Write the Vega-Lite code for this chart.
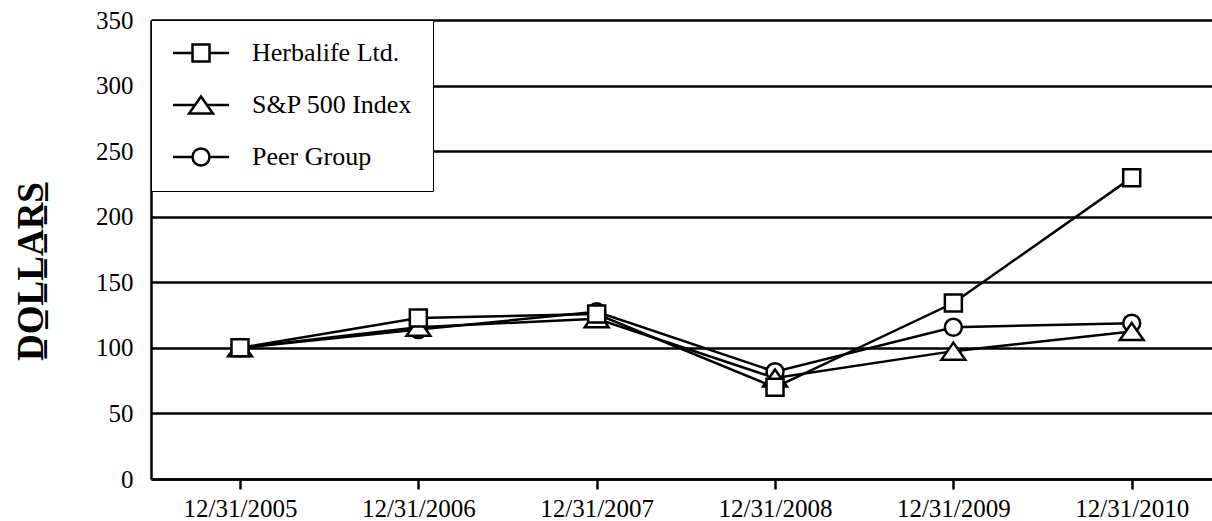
{
  "$schema": "https://vega.github.io/schema/vega-lite/v6.json",
  "width": 1061,
  "height": 459,
  "autosize": {"type": "none"},
  "padding": {"left": 151, "top": 20, "right": 0, "bottom": 42},
  "background": "white",
  "config": {"view": {"stroke": null}, "font": "Liberation Serif"},
  "data": {
    "values": [
      {"date": "12/31/2005", "series": "Peer Group", "value": 100},
      {"date": "12/31/2006", "series": "Peer Group", "value": 114},
      {"date": "12/31/2007", "series": "Peer Group", "value": 127.5},
      {"date": "12/31/2008", "series": "Peer Group", "value": 81.8},
      {"date": "12/31/2009", "series": "Peer Group", "value": 115.7},
      {"date": "12/31/2010", "series": "Peer Group", "value": 118.8},
      {"date": "12/31/2005", "series": "S&P 500 Index", "value": 100},
      {"date": "12/31/2006", "series": "S&P 500 Index", "value": 115.8},
      {"date": "12/31/2007", "series": "S&P 500 Index", "value": 122.2},
      {"date": "12/31/2008", "series": "S&P 500 Index", "value": 77},
      {"date": "12/31/2009", "series": "S&P 500 Index", "value": 97.5},
      {"date": "12/31/2010", "series": "S&P 500 Index", "value": 112.5},
      {"date": "12/31/2005", "series": "Herbalife Ltd.", "value": 100},
      {"date": "12/31/2006", "series": "Herbalife Ltd.", "value": 122.7},
      {"date": "12/31/2007", "series": "Herbalife Ltd.", "value": 125.8},
      {"date": "12/31/2008", "series": "Herbalife Ltd.", "value": 69.9},
      {"date": "12/31/2009", "series": "Herbalife Ltd.", "value": 134.2},
      {"date": "12/31/2010", "series": "Herbalife Ltd.", "value": 229.8}
    ]
  },
  "encoding": {
    "x": {
      "field": "date",
      "type": "ordinal",
      "sort": ["12/31/2005", "12/31/2006", "12/31/2007", "12/31/2008", "12/31/2009", "12/31/2010"],
      "scale": {"type": "point", "padding": 0.4746, "align": 0.5257},
      "axis": {
        "title": null,
        "labelAngle": 0,
        "labelFont": "Liberation Serif",
        "labelFontSize": 25,
        "labelColor": "black",
        "labelBaseline": "top",
        "tickColor": "black",
        "tickWidth": 2.5,
        "tickSize": 10,
        "labelPadding": 7,
        "domainColor": "black",
        "domainWidth": 2.5,
        "grid": false
      }
    },
    "y": {
      "field": "value",
      "type": "quantitative",
      "scale": {"domain": [0, 350], "nice": false},
      "axis": {
        "values": [0, 50, 100, 150, 200, 250, 300, 350],
        "grid": true,
        "gridColor": "black",
        "gridWidth": 2.5,
        "gridOpacity": 1,
        "domainColor": "black",
        "domainWidth": 2.5,
        "ticks": false,
        "tickSize": 0,
        "labelPadding": 18,
        "labelFont": "Liberation Serif",
        "labelFontSize": 25,
        "labelColor": "black",
        "title": "D\u0332O\u0332L\u0332L\u0332A\u0332R\u0332S\u0332",
        "titleFont": "Liberation Serif",
        "titleFontSize": 37,
        "titleFontWeight": "bold",
        "titleColor": "black",
        "titleAngle": 270,
        "titleX": -109,
        "titleY": 251,
        "titleAlign": "center",
        "titleBaseline": "alphabetic"
      }
    }
  },
  "layer": [
    {
      "mark": {"type": "line", "stroke": "black", "strokeWidth": 2.5},
      "encoding": {"detail": {"field": "series"}}
    },
    {
      "mark": {"type": "point", "filled": true, "fill": "white", "stroke": "black", "strokeWidth": 2.5, "size": 289, "opacity": 1},
      "encoding": {
        "shape": {
          "field": "series",
          "scale": {
            "domain": ["Herbalife Ltd.", "S&P 500 Index", "Peer Group"],
            "range": ["M-1,-1H1V1H-1Z", "M0,-1L1.4,1H-1.4Z", "circle"]
          },
          "legend": null
        }
      }
    },
    {
      "transform": [{"filter": "false"}],
      "mark": {"type": "point", "filled": false, "color": "black", "strokeWidth": 2.5, "size": 289, "opacity": 1},
      "encoding": {
        "shape": {
          "field": "series",
          "scale": {
            "domain": ["Herbalife Ltd.", "S&P 500 Index", "Peer Group"],
            "range": [
              "M-1.3,0H1M3,0H5.3M1,-1H3V1H1Z",
              "M-1.3,0H1.3M2.7,0H5.3M2,-1L3.4,1H0.6Z",
              "M-1.3,0H1M3,0H5.3M3,0A1,1 0 1,1 1,0A1,1 0 1,1 3,0Z"
            ]
          },
          "legend": {
            "title": null,
            "orient": "none",
            "legendX": 0,
            "legendY": 0,
            "fillColor": "white",
            "strokeColor": "black",
            "padding": 20,
            "rowPadding": 24,
            "labelFont": "Liberation Serif",
            "labelFontSize": 26,
            "labelColor": "black",
            "labelLimit": 400,
            "symbolSize": 289,
            "symbolStrokeWidth": 2.5,
            "symbolStrokeColor": "black",
            "labelOffset": 55,
            "encode": {
              "legend": {"update": {"strokeWidth": {"value": 1.5}}}
            }
          }
        }
      }
    }
  ],
  "resolve": {"scale": {"shape": "independent"}}
}
